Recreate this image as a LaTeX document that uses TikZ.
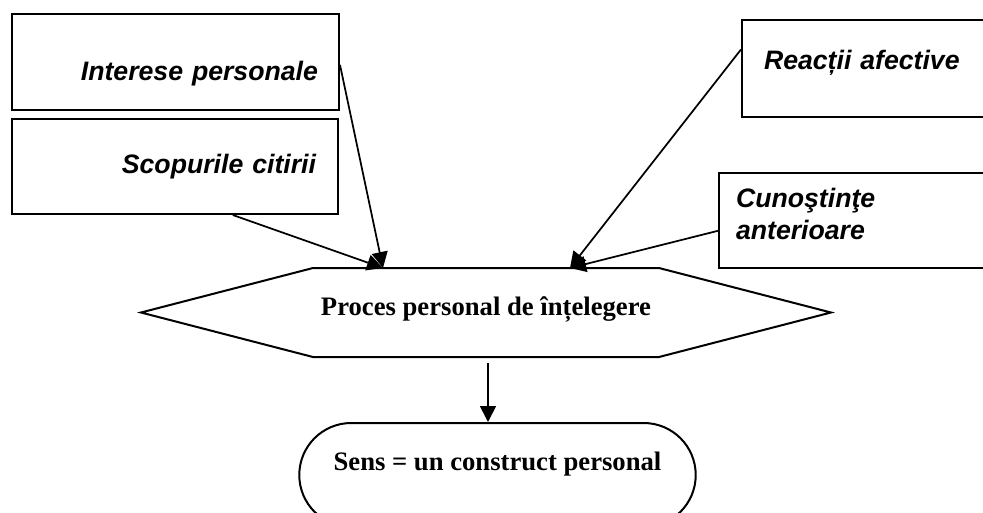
\documentclass[tikz,border=0pt]{standalone}
\usepackage{fontspec}
\setmainfont{Liberation Serif}
\setsansfont{Liberation Sans}
\usetikzlibrary{arrows.meta,shapes.misc}

\begin{document}
\begin{tikzpicture}[x=0.75pt,y=-0.75pt,>={Triangle[length=12pt,width=12pt]},
  box/.style={draw,line width=1.5pt,anchor=north west,inner ysep=0pt,
    font=\sffamily\bfseries\itshape\fontsize{20}{24}\selectfont},
  serif/.style={font=\bfseries\fontsize{20}{24}\selectfont},
  link/.style={->,line width=1.3pt}]
  \useasboundingbox (0,0) rectangle (983,512);
  \clip (0,0) rectangle (983,512);

  % factorii din stanga
  \node[box,inner xsep=15.75pt,text width=213.75pt,align=right,
        text height=49.5pt,text depth=22.5pt] (ip) at (11,13) {Interese personale};
  \node[box,inner xsep=16.5pt,text width=211.5pt,align=right,
        text height=40.5pt,text depth=30.75pt] (sc) at (11,118) {Scopurile citirii};

  % factorii din dreapta
  \node[box,inner xsep=16.5pt,text width=168.75pt,align=left,
        text height=36.75pt,text depth=36pt] (ra) at (741,19) {Reacții afective};
  \node[box,inner xsep=12.75pt,text width=193.5pt,align=left,
        text height=25.5pt,text depth=45.75pt] (ca) at (718,172) {Cunoştinţe\\anterioare};

  % procesul
  \draw[line width=1.5pt] (141,312.5) -- (313,268) -- (659,268) -- (831,312.5)
    -- (659,357) -- (313,357) -- cycle;
  \node[serif,anchor=base] (proc) at (486,315) {Proces personal de înțelegere};
  \coordinate (t1) at (383,268);
  \coordinate (t2) at (570,268);
  \coordinate (dn) at (488,363);

  % rezultatul
  \node[draw,line width=1.5pt,rounded rectangle,minimum width=304pt,
        minimum height=78pt,anchor=north,inner ysep=0pt,text height=14pt,
        text depth=21.5pt,serif] (sens) at (497.5,422) {Sens = un construct personal};

  \draw[link] (ip.-1) -- (t1);
  \draw[link] (sc.-40) -- (t1);
  \draw[link] (ra.172.6) -- (t2);
  \draw[link] (ca.184) -- (t2);
  \draw[link] (dn) -- (dn |- sens.north);
\end{tikzpicture}
\end{document}
